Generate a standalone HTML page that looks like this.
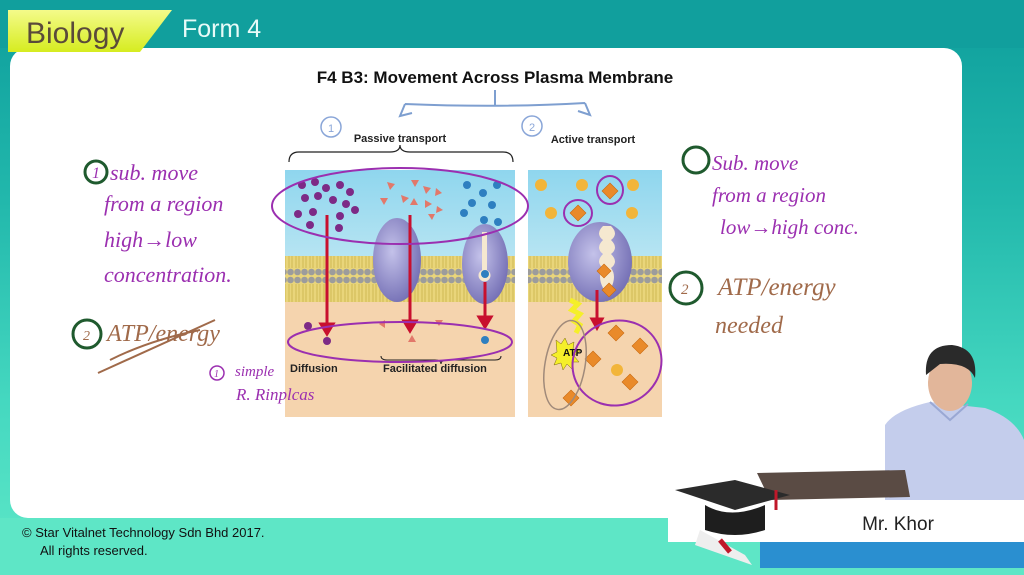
<!DOCTYPE html>
<html><head><meta charset="utf-8"><style>
html,body{margin:0;padding:0;width:1024px;height:575px;overflow:hidden;background:#2fc4b4}
svg{display:block}
</style></head><body>
<svg width="1024" height="575" viewBox="0 0 1024 575" xmlns="http://www.w3.org/2000/svg" font-family="Liberation Sans, sans-serif">
<defs>
<linearGradient id="bg" x1="0" y1="0" x2="0" y2="1"><stop offset="0" stop-color="#0e9e9c"/><stop offset="0.35" stop-color="#22b8ac"/><stop offset="0.7" stop-color="#45d8c0"/><stop offset="1" stop-color="#5ee8c8"/></linearGradient>
<linearGradient id="yel" x1="0" y1="0" x2="0" y2="1"><stop offset="0" stop-color="#f4fb8a"/><stop offset="1" stop-color="#d6ec20"/></linearGradient>
<linearGradient id="sky" x1="0" y1="0" x2="0" y2="1"><stop offset="0" stop-color="#8fd6ee"/><stop offset="1" stop-color="#b6e4f2"/></linearGradient>
<radialGradient id="prot" cx="0.4" cy="0.4" r="0.7"><stop offset="0" stop-color="#c4c2ea"/><stop offset="1" stop-color="#6d68b0"/></radialGradient>
<pattern id="lip" width="7" height="46" patternUnits="userSpaceOnUse"><rect width="7" height="46" fill="#e9d57a"/><circle cx="3.5" cy="4" r="3.3" fill="#9c9c9c"/><circle cx="3.5" cy="42" r="3.3" fill="#9c9c9c"/><path d="M2 8v30M5 8v30" stroke="#c9b24a" stroke-width="0.8"/></pattern>
</defs>
<rect width="1024" height="575" fill="url(#bg)"/>
<rect x="0" y="0" width="1024" height="48" fill="#119f9d"/>
<rect x="10" y="48" width="952" height="470" rx="18" fill="#fff"/>
<path d="M8 10 H172 L140 52 H8 Z" fill="url(#yel)"/>
<text x="26" y="43" font-size="30" fill="#5a4a3a">Biology</text>
<text x="182" y="37" font-size="25" fill="#e8fbf8">Form 4</text>
<text x="495" y="83" font-size="17" font-weight="bold" text-anchor="middle" fill="#111">F4 B3: Movement Across Plasma Membrane</text>
<path d="M495 90 V105 M405 104 Q500 108 585 103 M405 104 l-5 12 l12 -3 M585 103 l5 12 l-12 -4" fill="none" stroke="#7e9fd0" stroke-width="2"/>
<circle cx="331" cy="127" r="10" fill="none" stroke="#8aa6d8" stroke-width="1.5"/><text x="328" y="132" font-size="11" fill="#8aa6d8">1</text>
<circle cx="532" cy="126" r="10" fill="none" stroke="#8aa6d8" stroke-width="1.5"/><text x="529" y="131" font-size="11" fill="#8aa6d8">2</text>
<text x="400" y="142" font-size="11" font-weight="bold" text-anchor="middle" fill="#222">Passive transport</text>
<text x="593" y="143" font-size="11" font-weight="bold" text-anchor="middle" fill="#222">Active transport</text>
<path d="M289 162 Q289 152 299 152 H390 Q400 152 400 145 Q400 152 410 152 H503 Q513 152 513 162" fill="none" stroke="#222" stroke-width="1.2"/>
<rect x="285" y="170" width="230" height="247" fill="#f5d4ae"/>
<rect x="285" y="170" width="230" height="86" fill="url(#sky)"/>
<rect x="285" y="256" width="230" height="46" fill="url(#lip)"/>
<rect x="528" y="170" width="134" height="247" fill="#f5d4ae"/>
<rect x="528" y="170" width="134" height="86" fill="url(#sky)"/>
<rect x="528" y="256" width="134" height="46" fill="url(#lip)"/>
<ellipse cx="397" cy="260" rx="24" ry="42" fill="url(#prot)"/>
<ellipse cx="485" cy="264" rx="23" ry="40" fill="url(#prot)"/>
<path d="M482 232 h5 v38 a6 6 0 1 1 -5 0z" fill="#f5e8d0"/>
<ellipse cx="600" cy="262" rx="32" ry="40" fill="url(#prot)"/>
<path d="M603 226 q-8 8 0 14 q-8 8 0 14 q-8 8 0 14 q-6 8 0 20 l8 0 q6 -12 0 -20 q8 -6 0 -14 q8 -6 0 -14 q8 -6 0 -14z" fill="#f5e8d0"/>
<g fill="#7d2a86">
<circle cx="302" cy="185" r="4"/><circle cx="315" cy="182" r="4"/><circle cx="326" cy="188" r="4"/><circle cx="340" cy="185" r="4"/><circle cx="350" cy="192" r="4"/><circle cx="305" cy="198" r="4"/><circle cx="318" cy="196" r="4"/><circle cx="333" cy="200" r="4"/><circle cx="346" cy="204" r="4"/><circle cx="355" cy="210" r="4"/><circle cx="298" cy="214" r="4"/><circle cx="313" cy="212" r="4"/><circle cx="340" cy="216" r="4"/><circle cx="310" cy="225" r="4"/><circle cx="339" cy="228" r="4"/><circle cx="308" cy="326" r="4"/><circle cx="327" cy="341" r="4"/>
</g>
<g fill="#e2786a">
<path d="M387 182 l8 2 -5 6z"/><path d="M411 180 l8 0 -4 7z"/><path d="M423 186 l8 2 -5 6z"/><path d="M401 195 l8 3 -6 5z"/><path d="M380 198 l8 0 -4 7z"/><path d="M410 205 l4 -7 4 7z"/><path d="M425 200 l7 4 -7 4z"/><path d="M436 188 l6 5 -7 3z"/><path d="M437 206 l6 4 -7 3z"/><path d="M428 214 l7 0 -3 6z"/><path d="M385 320 l-6 4 6 4z"/><path d="M435 320 l8 0 -4 6z"/><path d="M408 342 l4 -7 4 7z"/>
</g>
<g fill="#2e7fc0">
<circle cx="467" cy="185" r="4"/><circle cx="497" cy="185" r="4"/><circle cx="483" cy="193" r="4"/><circle cx="472" cy="203" r="4"/><circle cx="492" cy="205" r="4"/><circle cx="464" cy="213" r="4"/><circle cx="484" cy="220" r="4"/><circle cx="498" cy="222" r="4"/><circle cx="485" cy="274" r="4"/><circle cx="485" cy="340" r="4"/>
</g>
<g stroke="#c8102e" stroke-width="3" fill="#c8102e">
<line x1="327" y1="215" x2="327" y2="325"/><path d="M321 324 h12 l-6 10z"/>
<line x1="410" y1="215" x2="410" y2="322"/><path d="M404 321 h12 l-6 10z"/>
<line x1="485" y1="282" x2="485" y2="318"/><path d="M479 317 h12 l-6 10z"/>
<line x1="597" y1="290" x2="597" y2="320"/><path d="M592 319 h10 l-5 9z"/>
</g>
<g fill="#f2b53a"><circle cx="541" cy="185" r="6"/><circle cx="582" cy="185" r="6"/><circle cx="633" cy="185" r="6"/><circle cx="551" cy="213" r="6"/><circle cx="632" cy="213" r="6"/><circle cx="617" cy="370" r="6"/></g>
<g fill="#e98a2a" stroke="#c96a10" stroke-width="0.6">
<path d="M610 183 l8 8 -8 8 -8 -8z"/><path d="M578 205 l8 8 -8 8 -8 -8z"/><path d="M604 264 l7 7 -7 7 -7 -7z"/><path d="M609 283 l7 7 -7 7 -7 -7z"/><path d="M616 325 l8 8 -8 8 -8 -8z"/><path d="M640 338 l8 8 -8 8 -8 -8z"/><path d="M593 351 l8 8 -8 8 -8 -8z"/><path d="M630 374 l8 8 -8 8 -8 -8z"/><path d="M571 390 l8 8 -8 8 -8 -8z"/>
</g>
<path d="M570 300 l8 4 -6 6 8 4 -6 7 6 4 -4 8" fill="none" stroke="#f5ef2a" stroke-width="5"/>
<path d="M556 340 l5 4 4 -6 3 7 6 -3 -1 7 7 2 -6 5 5 6 -7 0 0 7 -5 -5 -4 6 -2 -7 -7 2 3 -7 -6 -3 6 -3z" fill="#f5ef2a" stroke="#7a6a10" stroke-width="0.5"/>
<text x="563" y="356" font-size="10" font-weight="bold" fill="#111">ATP</text>
<text x="290" y="372" font-size="11" font-weight="bold" fill="#222">Diffusion</text>
<text x="383" y="372" font-size="11" font-weight="bold" fill="#222">Facilitated diffusion</text>
<path d="M381 356 q0 4 6 4 h48 q6 0 6 4 q0 -4 6 -4 h48 q6 0 6 -4" fill="none" stroke="#222" stroke-width="1"/>
<g fill="none" stroke="#9b2fb0" stroke-width="2">
<ellipse cx="400" cy="206" rx="128" ry="38"/>
<ellipse cx="400" cy="342" rx="112" ry="20"/>
<ellipse cx="578" cy="213" rx="14" ry="13"/><ellipse cx="610" cy="190" rx="13" ry="14"/>
<ellipse cx="617" cy="363" rx="45" ry="42" transform="rotate(-25 617 363)"/>
<circle cx="696" cy="160" r="13" stroke="#1f5a2e" stroke-width="3"/>
</g>
<ellipse cx="565" cy="365" rx="20" ry="45" fill="none" stroke="#a08a7a" stroke-width="1.5" transform="rotate(10 565 365)"/>
<g font-family="Liberation Serif, serif" font-style="italic" fill="#9b2fb0">
<circle cx="96" cy="172" r="11" fill="none" stroke="#1f5a2e" stroke-width="3"/>
<text x="92" y="178" font-size="16">1</text>
<text x="110" y="180" font-size="22">sub. move</text>
<text x="104" y="211" font-size="22">from a region</text>
<text x="104" y="247" font-size="22">high→low</text>
<text x="104" y="282" font-size="22">concentration.</text>
<text x="235" y="376" font-size="15">simple</text>
<circle cx="217" cy="373" r="7" fill="none" stroke="#9b2fb0" stroke-width="1.5"/>
<text x="214" y="377" font-size="10">1</text>
<text x="236" y="400" font-size="17">R. Rinplcas</text>
<text x="712" y="170" font-size="21">Sub. move</text>
<text x="712" y="202" font-size="21">from a region</text>
<text x="720" y="234" font-size="21">low→high conc.</text>
</g>
<circle cx="87" cy="334" r="14" fill="none" stroke="#1f5a2e" stroke-width="3"/>
<circle cx="686" cy="288" r="16" fill="none" stroke="#1f5a2e" stroke-width="3"/>
<g font-family="Liberation Serif, serif" font-style="italic" fill="#a06a4a">
<text x="83" y="340" font-size="14">2</text>
<text x="107" y="341" font-size="24">ATP/energy</text>
<path d="M98 373 L215 320 M110 360 Q150 340 200 330" stroke="#a06a4a" stroke-width="2" fill="none"/>
<text x="681" y="294" font-size="15">2</text>
<text x="718" y="295" font-size="25">ATP/energy</text>
<text x="715" y="333" font-size="24">needed</text>
</g>
<rect x="0" y="518" width="1024" height="57" fill="#5ee6c6"/>
<text x="22" y="537" font-size="13" fill="#111">© Star Vitalnet Technology Sdn Bhd 2017.</text>
<text x="40" y="555" font-size="13" fill="#111">All rights reserved.</text>
<path d="M885 425 Q895 410 930 402 L985 408 Q1015 418 1024 440 V500 H885Z" fill="#c4cdec"/>
<path d="M930 402 L950 420 L968 404" fill="none" stroke="#9aa8d4" stroke-width="2"/>
<ellipse cx="950" cy="383" rx="22" ry="28" fill="#e2b69a"/>
<path d="M926 375 Q924 345 952 345 Q978 348 975 378 Q968 362 940 364Z" fill="#2a2a2a"/>
<path d="M757 473 L905 470 L910 497 L770 500Z" fill="#5a4b44"/>
<rect x="668" y="500" width="356" height="42" fill="#fff"/>
<rect x="760" y="542" width="264" height="26" fill="#2a8fd0"/>
<text x="898" y="530" font-size="19" text-anchor="middle" fill="#222">Mr. Khor</text>
<path d="M675 490 L735 480 L790 495 L735 510Z" fill="#2b2b2b"/>
<path d="M705 505 Q730 520 765 505 V530 Q735 540 705 530Z" fill="#1e1e1e"/>
<path d="M700 530 L745 555 L752 565 L695 545Z" fill="#eee"/>
<path d="M720 540 l10 12" stroke="#c0182a" stroke-width="5"/>
<path d="M776 490 v20" stroke="#c0182a" stroke-width="3"/>
</svg>
</body></html>
